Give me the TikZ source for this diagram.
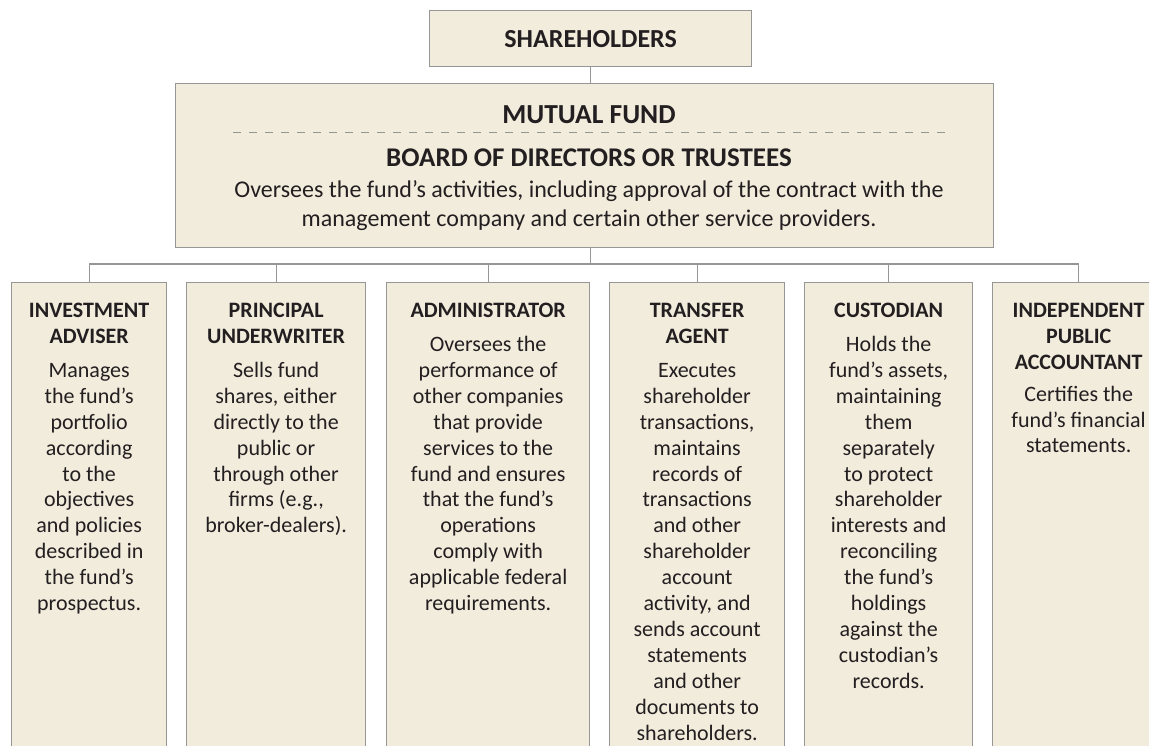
\documentclass[tikz,border=0pt]{standalone}
\usepackage{fontspec}
\setmainfont{Carlito}
\definecolor{cream}{RGB}{242,236,221}
\definecolor{edge}{RGB}{150,150,150}
\definecolor{ink}{RGB}{35,31,32}
\begin{document}
\begin{tikzpicture}[x=1pt,y=-1pt]
  %
  \tikzstyle{b} = [draw=edge, fill=cream, line width=1.3pt, inner sep=0pt, anchor=north west]
  \tikzstyle{t} = [text=ink, inner sep=0pt, anchor=north, align=center, font=\fontsize{22}{25.9}\selectfont]
  \tikzstyle{w} = [draw=edge, line width=1.3pt]
  \path[use as bounding box, clip] (0,0) rectangle (1149,746);
  \fill[white] (0,0) rectangle (1149,746);
  % top
  \node[b, minimum width=322pt, minimum height=56pt] (sh) at (429,10) {};
  \node[t, anchor=center, font=\bfseries\fontsize{26}{30}\selectfont] (sht) at (sh.center) {SHAREHOLDERS};
  \node[b, minimum width=818pt, minimum height=164pt] (mf) at (175,83) {};
  \node[t, anchor=center, font=\bfseries\fontsize{27.5}{30}\selectfont] (mft) at (589,114.5) {MUTUAL FUND};
  \draw[edge, line width=1pt, dash pattern=on 8pt off 8pt] (233,133) -- (945,133);
  \node[t, anchor=center, font=\bfseries\fontsize{27}{30}\selectfont] (bd) at (589,158) {BOARD OF DIRECTORS OR TRUSTEES};
  \node[t, font=\fontsize{24}{29}\selectfont] (bdt) at (589,180) {Oversees the fund’s activities, including approval of the contract with the\\management company and certain other service providers.};
  % service providers
  \node[b, minimum width=155pt, minimum height=480pt] (adv) at (11,282) {};
  \node[b, minimum width=179pt, minimum height=480pt] (und) at (186,282) {};
  \node[b, minimum width=203pt, minimum height=480pt] (adm) at (386,282) {};
  \node[b, minimum width=175pt, minimum height=480pt] (tra) at (609,282) {};
  \node[b, minimum width=168pt, minimum height=480pt] (cus) at (804,282) {};
  \node[b, minimum width=172pt, minimum height=480pt] (acc) at (992,282) {};
  \coordinate (row) at (0,303);
  \node[t] (advt) at (adv.north |- row) {\textbf{INVESTMENT}\\\textbf{ADVISER}\\[8pt]Manages\\the fund’s\\portfolio\\according\\to the\\objectives\\and policies\\described in\\the fund’s\\prospectus.};
  \node[t] (undt) at (und.north |- row) {\textbf{PRINCIPAL}\\\textbf{UNDERWRITER}\\[8pt]Sells fund\\shares, either\\directly to the\\public or\\through other\\firms (e.g.,\\broker-dealers).};
  \node[t] (admt) at (adm.north |- row) {\textbf{ADMINISTRATOR}\\[8pt]Oversees the\\performance of\\other companies\\that provide\\services to the\\fund and ensures\\that the fund’s\\operations\\comply with\\applicable federal\\requirements.};
  \node[t] (trat) at (tra.north |- row) {\textbf{TRANSFER}\\\textbf{AGENT}\\[8pt]Executes\\shareholder\\transactions,\\maintains\\records of\\transactions\\and other\\shareholder\\account\\activity, and\\sends account\\statements\\and other\\documents to\\shareholders.};
  \node[t] (cust) at (cus.north |- row) {\textbf{CUSTODIAN}\\[8pt]Holds the\\fund’s assets,\\maintaining\\them\\separately\\to protect\\shareholder\\interests and\\reconciling\\the fund’s\\holdings\\against the\\custodian’s\\records.};
  \node[t] (acct) at (acc.north |- row) {\textbf{INDEPENDENT}\\\textbf{PUBLIC}\\\textbf{ACCOUNTANT}\\[6pt]Certifies the\\fund’s financial\\statements.};
  % connectors
  \coordinate (bus) at (0,264);
  \draw[w] (sh.south) -- (sh.south |- mf.north);
  \draw[w] (mf.south -| sh.south) -- (bus -| sh.south);
  \draw[w] (adv.north) -- (adv.north |- bus) -| (acc.north);
  \foreach \n in {und,adm,tra,cus}
    \draw[w] (\n.north) -- (\n.north |- bus);
\end{tikzpicture}
\end{document}
